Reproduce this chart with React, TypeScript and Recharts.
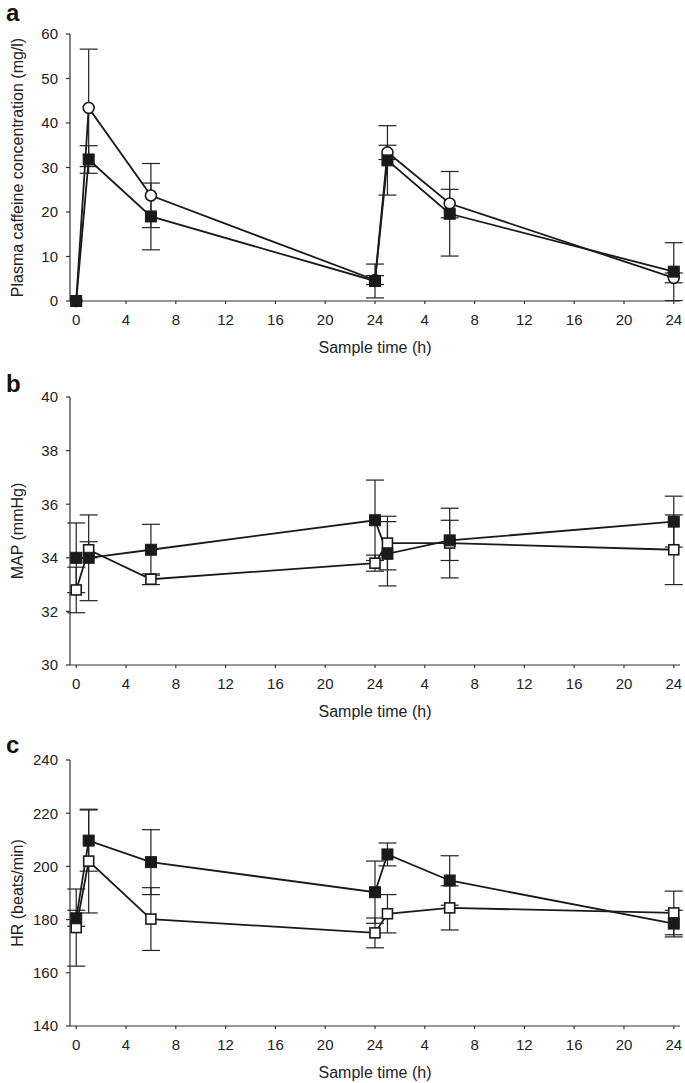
import React from 'react';
import { LineChart, Line, XAxis, YAxis, ErrorBar } from 'recharts';

// sampling times (h), second day continues at 24..48
const times = [0, 1, 6, 24, 25, 30, 48];
const xTicks = [0, 4, 8, 12, 16, 20, 24, 28, 32, 36, 40, 44, 48];

// a: plasma caffeine (mg/l)
const caffeineOpen = [0, 43.4, 23.7, 4.7, 33.4, 21.9, 5.2];
const caffeineOpenErr = [0, 13.2, 7.2, 1.0, 1.6, 3.2, 1.1];
const caffeineFilled = [0, 31.8, 19.0, 4.5, 31.6, 19.6, 6.6];
const caffeineFilledErr = [0, 3.1, 7.5, 3.8, 7.8, 9.5, 6.5];

// b: MAP (mmHg)
const mapOpen = [32.8, 34.3, 33.2, 33.8, 34.55, 34.55, 34.3];
const mapOpenErr = [0.85, 0.3, 0.2, 0.3, 1.0, 1.3, 1.3];
const mapFilled = [34.0, 34.0, 34.3, 35.4, 34.15, 34.65, 35.35];
const mapFilledErr = [1.3, 1.6, 0.95, 1.5, 1.2, 0.75, 0.95];

// c: HR (beats/min)
const hrOpen = [177, 202, 180.2, 175, 182.2, 184.4, 182.5];
const hrOpenErr = [14.5, 19.5, 11.8, 5.6, 7.2, 8.3, 8.2];
const hrFilled = [180.5, 209.7, 201.6, 190.3, 204.5, 194.7, 178.5];
const hrFilledErr = [3, 11.5, 12.2, 11.7, 4.3, 9.3, 5];

const FONT = '"Liberation Sans", Arial, Helvetica, sans-serif';
const INK = '#1a1a1a';

const buildRows = (open: number[], openErr: number[], filled: number[], filledErr: number[]) =>
  times.map((t, i) => ({ t, open: open[i], openErr: openErr[i], filled: filled[i], filledErr: filledErr[i] }));

const OpenCircle = (props: any) => {
  const { cx, cy, index } = props;
  return <circle key={`oc-${index}`} cx={cx} cy={cy} r={5.5} fill="#fff" stroke={INK} strokeWidth={1.6} />;
};

const OpenSquare = (props: any) => {
  const { cx, cy, index } = props;
  return <rect key={`os-${index}`} x={cx - 5} y={cy - 5} width={10} height={10} fill="#fff" stroke={INK} strokeWidth={1.6} />;
};

const FilledSquare = (props: any) => {
  const { cx, cy, index } = props;
  return <rect key={`fs-${index}`} x={cx - 5.5} y={cy - 5.5} width={11} height={11} fill={INK} stroke={INK} strokeWidth={1} />;
};

const fmtHour = (v: number) => String(v <= 24 ? v : v - 24);

type PanelProps = {
  top: number;
  height: number;
  marginTop: number;
  letter: string;
  letterTop: number;
  yLabel: string;
  domain: [number, number];
  yTicks: number[];
  rows: any[];
  openShape: (p: any) => React.ReactElement;
};

// axis title baseline sits this far below the x axis
const X_AXIS_H = 52;
// extra room under the axis title so descenders are not clipped
const PAD = 7;

const Panel = ({ top, height, marginTop, letter, letterTop, yLabel, domain, yTicks, rows, openShape }: PanelProps) => (
  <div style={{ position: 'absolute', left: 0, top, width: 685, height: height + PAD }}>
    <div style={{ position: 'absolute', left: 6, top: letterTop, fontFamily: FONT, fontWeight: 'bold', fontSize: 24, lineHeight: '26px', color: '#111' }}>
      {letter}
    </div>
    <LineChart width={685} height={height + PAD} data={rows} margin={{ top: marginTop, right: 5, bottom: 0, left: 0 }}>
      <XAxis
        dataKey="t"
        type="number"
        domain={[-0.5, 48.5]}
        ticks={xTicks}
        tickFormatter={fmtHour}
        tickSize={3}
        tickMargin={10}
        height={X_AXIS_H + PAD}
        axisLine={{ stroke: '#333', strokeWidth: 1.2 }}
        tickLine={{ stroke: '#333', strokeWidth: 1.2 }}
        tick={{ fill: '#222', fontSize: 15, fontFamily: FONT }}
        label={{ value: 'Sample time (h)', position: 'insideBottom', offset: PAD, fill: '#222', fontSize: 16, fontFamily: FONT }}
      />
      <YAxis
        type="number"
        domain={domain}
        ticks={yTicks}
        width={70}
        tickSize={4}
        tickMargin={8}
        interval={0}
        axisLine={{ stroke: '#333', strokeWidth: 1.2 }}
        tickLine={{ stroke: '#333', strokeWidth: 1.2 }}
        tick={{ fill: '#222', fontSize: 15, fontFamily: FONT }}
        label={{ value: yLabel, angle: -90, position: 'insideLeft', offset: 17, fill: '#222', fontSize: 16, fontFamily: FONT, style: { textAnchor: 'middle' } }}
      />
      <Line dataKey="open" stroke={INK} strokeWidth={1.8} dot={openShape} activeDot={false} isAnimationActive={false}>
        <ErrorBar dataKey="openErr" direction="y" width={9} stroke="#222" strokeWidth={1.2} />
      </Line>
      <Line dataKey="filled" stroke={INK} strokeWidth={1.8} dot={FilledSquare} activeDot={false} isAnimationActive={false}>
        <ErrorBar dataKey="filledErr" direction="y" width={9} stroke="#222" strokeWidth={1.2} />
      </Line>
    </LineChart>
  </div>
);

export default function App() {
  return (
    <div style={{ position: 'absolute', left: 0, top: 0, width: 685, height: 1083, background: '#fff', overflow: 'hidden' }}>
      <Panel
        top={0}
        height={353}
        marginTop={34}
        letter="a"
        letterTop={0}
        yLabel="Plasma caffeine concentration (mg/l)"
        domain={[0, 60]}
        yTicks={[0, 10, 20, 30, 40, 50, 60]}
        rows={buildRows(caffeineOpen, caffeineOpenErr, caffeineFilled, caffeineFilledErr)}
        openShape={OpenCircle}
      />
      <Panel
        top={352}
        height={365}
        marginTop={45}
        letter="b"
        letterTop={19}
        yLabel="MAP (mmHg)"
        domain={[30, 40]}
        yTicks={[30, 32, 34, 36, 38, 40]}
        rows={buildRows(mapOpen, mapOpenErr, mapFilled, mapFilledErr)}
        openShape={OpenSquare}
      />
      <Panel
        top={715}
        height={363}
        marginTop={45}
        letter="c"
        letterTop={17}
        yLabel="HR (beats/min)"
        domain={[140, 240]}
        yTicks={[140, 160, 180, 200, 220, 240]}
        rows={buildRows(hrOpen, hrOpenErr, hrFilled, hrFilledErr)}
        openShape={OpenSquare}
      />
    </div>
  );
}
